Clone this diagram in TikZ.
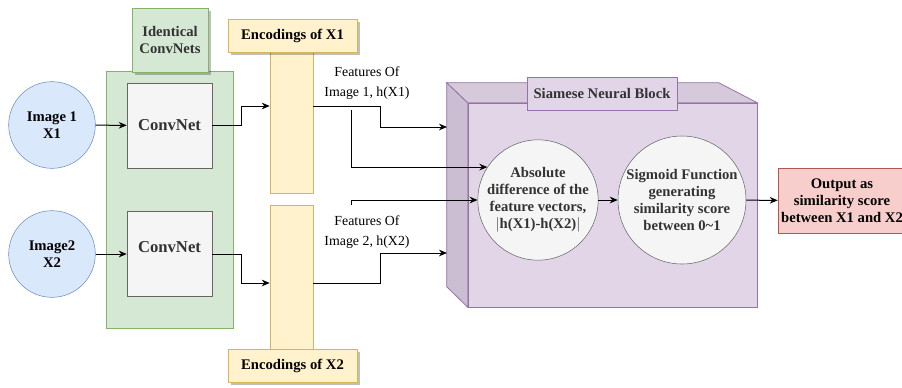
\documentclass[tikz,border=0pt]{standalone}
\usepackage{fontspec}
\setmainfont{Liberation Serif}
\usetikzlibrary{arrows.meta,shadows}
\definecolor{bluef}{HTML}{DAE8FC}\definecolor{blued}{HTML}{6C8EBF}
\definecolor{greenf}{HTML}{D5E8D4}\definecolor{greend}{HTML}{82B366}
\definecolor{yelf}{HTML}{FFF2CC}\definecolor{yeld}{HTML}{D6B656}
\definecolor{purf}{HTML}{E1D5E7}\definecolor{purd}{HTML}{9673A6}
\definecolor{purtop}{HTML}{D6C9DC}\definecolor{purleft}{HTML}{CBBDD2}
\definecolor{redf}{HTML}{F8CECC}\definecolor{redd}{HTML}{B85450}
\definecolor{grayf}{HTML}{F5F5F5}\definecolor{grayd}{HTML}{666666}
\definecolor{txtg}{HTML}{333333}
\newcommand{\fsA}{\fontsize{11}{12.8}\selectfont}
\newcommand{\fsB}{\fontsize{12.5}{14}\selectfont}
\newcommand{\fsC}{\fontsize{10.4}{14.5}\selectfont}
\begin{document}
\begin{tikzpicture}[x=0.75pt,y=-0.75pt,
  imgcirc/.style={circle,draw=blued,fill=bluef,minimum size=65pt,inner sep=0pt,font=\bfseries\fsA,align=center},
  convbox/.style={draw=grayd,fill=grayf,minimum width=63.75pt,minimum height=63.75pt,inner sep=0pt,font=\bfseries\fsB,text=txtg},
  shad/.style={drop shadow={shadow xshift=2pt,shadow yshift=-2pt,fill=black,opacity=0.25}},
  greenlbl/.style={draw=greend,fill=greenf,minimum width=57pt,minimum height=48pt,inner sep=0pt,font=\bfseries\fsA,align=center,text=txtg},
  yelcol/.style={draw=yeld,fill=yelf,minimum width=32.25pt,inner sep=0pt},
  yellbl/.style={draw=yeld,fill=yelf,minimum width=96.75pt,minimum height=24.5pt,inner sep=0pt,font=\bfseries\fsA},
  featlbl/.style={font=\fsC,align=center,inner sep=0pt},
  graycirc/.style={circle,draw=grayd,fill=grayf,inner sep=0pt,font=\bfseries\fsA,align=center,text=txtg},
  arr/.style={draw=black,line width=0.75pt,-{Stealth[length=6pt,width=5pt]}},
  ln/.style={draw=black,line width=0.75pt}]
\useasboundingbox (0,0) rectangle (902,387);
\clip (0,0) rectangle (902,387);

% green container
\node[draw=greend,fill=greenf,minimum width=95.25pt,minimum height=192.75pt,inner sep=0pt] (grp) at (169.5,199.5) {};
\node[greenlbl,shad] (idc) at (170,40) {Identical\\ConvNets};

% images
\node[imgcirc] (img1) at (52,125) {Image 1\\X1};
\node[imgcirc] (img2) at (52,254) {Image2\\X2};

% convnets
\node[convbox] (cv1) at (169.5,125.5) {ConvNet};
\node[convbox] (cv2) at (169.5,254) {\raisebox{10pt}{ConvNet}};

% encodings
\node[yelcol,minimum height=105.75pt] (e1) at (291.5,122.5) {};
\node[yelcol,minimum height=108.75pt] (e2) at (291.5,277.5) {};
\node[yellbl,shad] (e1l) at (292.5,35.5) {Encodings of X1};
\node[yellbl,shad] (e2l) at (292.5,366) {Encodings of X2};

% feature labels
\node[featlbl] (f1) at (367,83) {Features Of\\Image 1, h(X1)};
\node[featlbl] (f2) at (367,232) {Features Of\\Image 2, h(X2)};

% cube
\node[draw=purd,fill=purf,minimum width=216.75pt,minimum height=153pt,inner sep=0pt] (blk) at (612.5,205) {};
\filldraw[draw=purd,fill=purleft,line width=0.6pt] (blk.north west) -- ++(-21,-20) -- ++(0,204) -- (blk.south west) -- cycle;
\filldraw[draw=purd,fill=purtop,line width=0.6pt] (blk.north west) -- ++(-21,-20) -- ++(272,0) -- (blk.north east) -- cycle;
\node[draw=purd,fill=purf,minimum width=112.5pt,minimum height=24.75pt,inner sep=0pt,font=\bfseries\fsA,text=txtg] (snb) at (602,93.5) {Siamese Neural Block};
\coordinate (lf1) at (447,127);
\coordinate (lf2) at (447,253);

\node[graycirc,minimum size=88.5pt] (abs) at (538,200) {Absolute\\difference of the\\feature vectors,\\$|$h(X1)-h(X2)$|$};
\node[graycirc,minimum size=96pt] (sig) at (682,200) {Sigmoid Function\\generating\\similarity score\\between 0\textasciitilde1};

\node[draw=redd,fill=redf,minimum width=96pt,minimum height=48.75pt,inner sep=0pt,font=\bfseries\fsA,align=center] (out) at (842,200.5) {Output as\\similarity score\\between X1 and X2};

% connectors
\draw[arr] (img1) -- (cv1);
\draw[arr] (img2) -- (cv2.west |- img2);
\draw[arr] (cv1.east) -- (241,125.5) |- (e1.west |- 0,106);
\draw[arr] (cv2.east |- img2) -- (241,254) |- (e2.west |- 0,283);
\draw[arr] (e1.east |- 0,106) -- (380,106) |- (lf1);
\draw[arr] (e2.east |- 0,283) -- (380,283) |- (lf2);
\coordinate (s1) at (351,110);
\coordinate (s2) at (351,205);
\draw[arr] (s1) |- (abs.147);
\draw[arr] (s2) |- (abs.west);
\draw[arr] (abs) -- (sig);
\draw[arr] (sig) -- (out);
\end{tikzpicture}
\end{document}
